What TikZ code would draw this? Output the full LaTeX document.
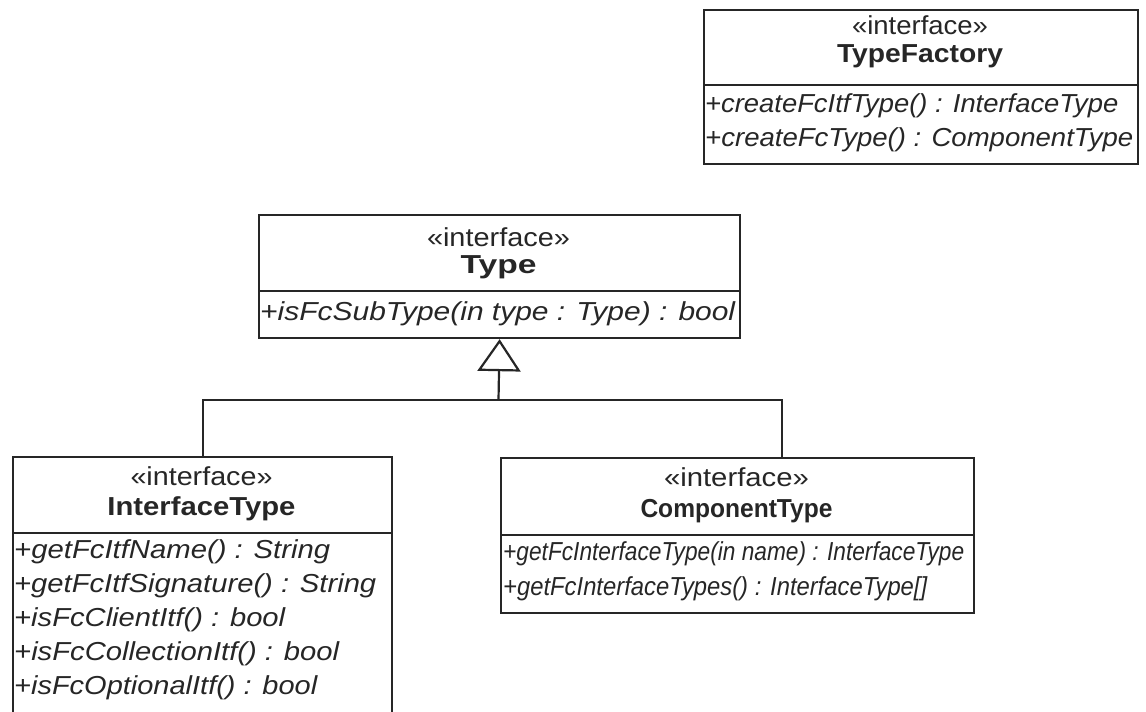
\documentclass[tikz,border=0pt]{standalone}
\usepackage{fontspec}
\usepackage{graphicx}
\setmainfont{Liberation Sans}
\usetikzlibrary{arrows.meta}
\definecolor{ink}{HTML}{262626}
% set a text line to a given width, keeping its height
\newcommand\fitto[2]{\resizebox{#1pt}{\height}{#2}}
\begin{document}
\begin{tikzpicture}[x=1pt,y=-1pt,
  frame/.style={draw=ink, line width=2.2pt, inner sep=0pt, anchor=north west},
  link/.style={draw=ink, line width=2.2pt},
  stereo/.style={anchor=center, inner sep=0pt, text=ink, font=\fontsize{26}{28}\selectfont},
  title/.style={anchor=center, inner sep=0pt, text=ink, font=\fontsize{26}{28}\selectfont\bfseries},
  op/.style={anchor=west, inner sep=0pt, text=ink, font=\fontsize{26}{28}\selectfont\itshape},
  gen/.style={-{Triangle[open, length=32pt, width=43pt, line width=2.2pt]}},
]
\useasboundingbox (0,0) rectangle (1146,712);
\clip (0,0) rectangle (1146,712);

% ---- TypeFactory ----
\node[frame, minimum width=434pt, minimum height=154pt] (tf) at (703,9) {};
\draw[link] (703,85) -- (1137,85);
\node[stereo] (tfs) at (920,25) {\fitto{136}{«interface»}};
\node[title] (tfn) at (920,56) {\fitto{166}{TypeFactory}};
\node[op] (tf1) at (705,106) {\fitto{413}{+createFcItfType() : InterfaceType}};
\node[op] (tf2) at (705,140) {\fitto{428}{+createFcType() : ComponentType}};

% ---- Type ----
\node[frame, minimum width=481pt, minimum height=123pt] (ty) at (258,214) {};
\draw[link] (258,291) -- (739,291);
\node[stereo] (tys) at (498.5,237) {\fitto{143}{«interface»}};
\node[title] (tyn) at (498.5,267) {\fitto{76}{Type}};
\node[op] (ty1) at (260,314) {\fitto{475}{+isFcSubType(in type : Type) : bool}};

% ---- InterfaceType (runs past the lower edge) ----
\node[frame, minimum width=379pt, minimum height=290pt] (it) at (12,456) {};
\draw[link] (12,533) -- (391,533);
\node[stereo] (its) at (201.5,476) {\fitto{142}{«interface»}};
\node[title] (itn) at (201.5,509) {\fitto{188}{InterfaceType}};
\node[op] (it1) at (14,552) {\fitto{316}{+getFcItfName() : String}};
\node[op] (it2) at (14,586) {\fitto{362}{+getFcItfSignature() : String}};
\node[op] (it3) at (14,620) {\fitto{271}{+isFcClientItf() : bool}};
\node[op] (it4) at (14,654) {\fitto{325}{+isFcCollectionItf() : bool}};
\node[op] (it5) at (14,688) {\fitto{303}{+isFcOptionalItf() : bool}};

% ---- ComponentType ----
\node[frame, minimum width=473pt, minimum height=155pt] (ct) at (500,457) {};
\draw[link] (500,535) -- (973,535);
\node[stereo] (cts) at (736.5,477) {\fitto{145}{«interface»}};
\node[title] (ctn) at (736.5,511) {\fitto{192}{ComponentType}};
\node[op] (ct1) at (503,554) {\fitto{461}{+getFcInterfaceType(in name) : InterfaceType}};
\node[op] (ct2) at (503,589) {\fitto{424}{+getFcInterfaceTypes() : InterfaceType[]}};

% ---- generalisation ----
\coordinate (bus) at (498.5,400);
\coordinate (ctin) at (782,457);
\draw[link] (it.north) |- (bus) -| (ctin);
\draw[link, gen] (bus) -- (ty.south);
\end{tikzpicture}
\end{document}
